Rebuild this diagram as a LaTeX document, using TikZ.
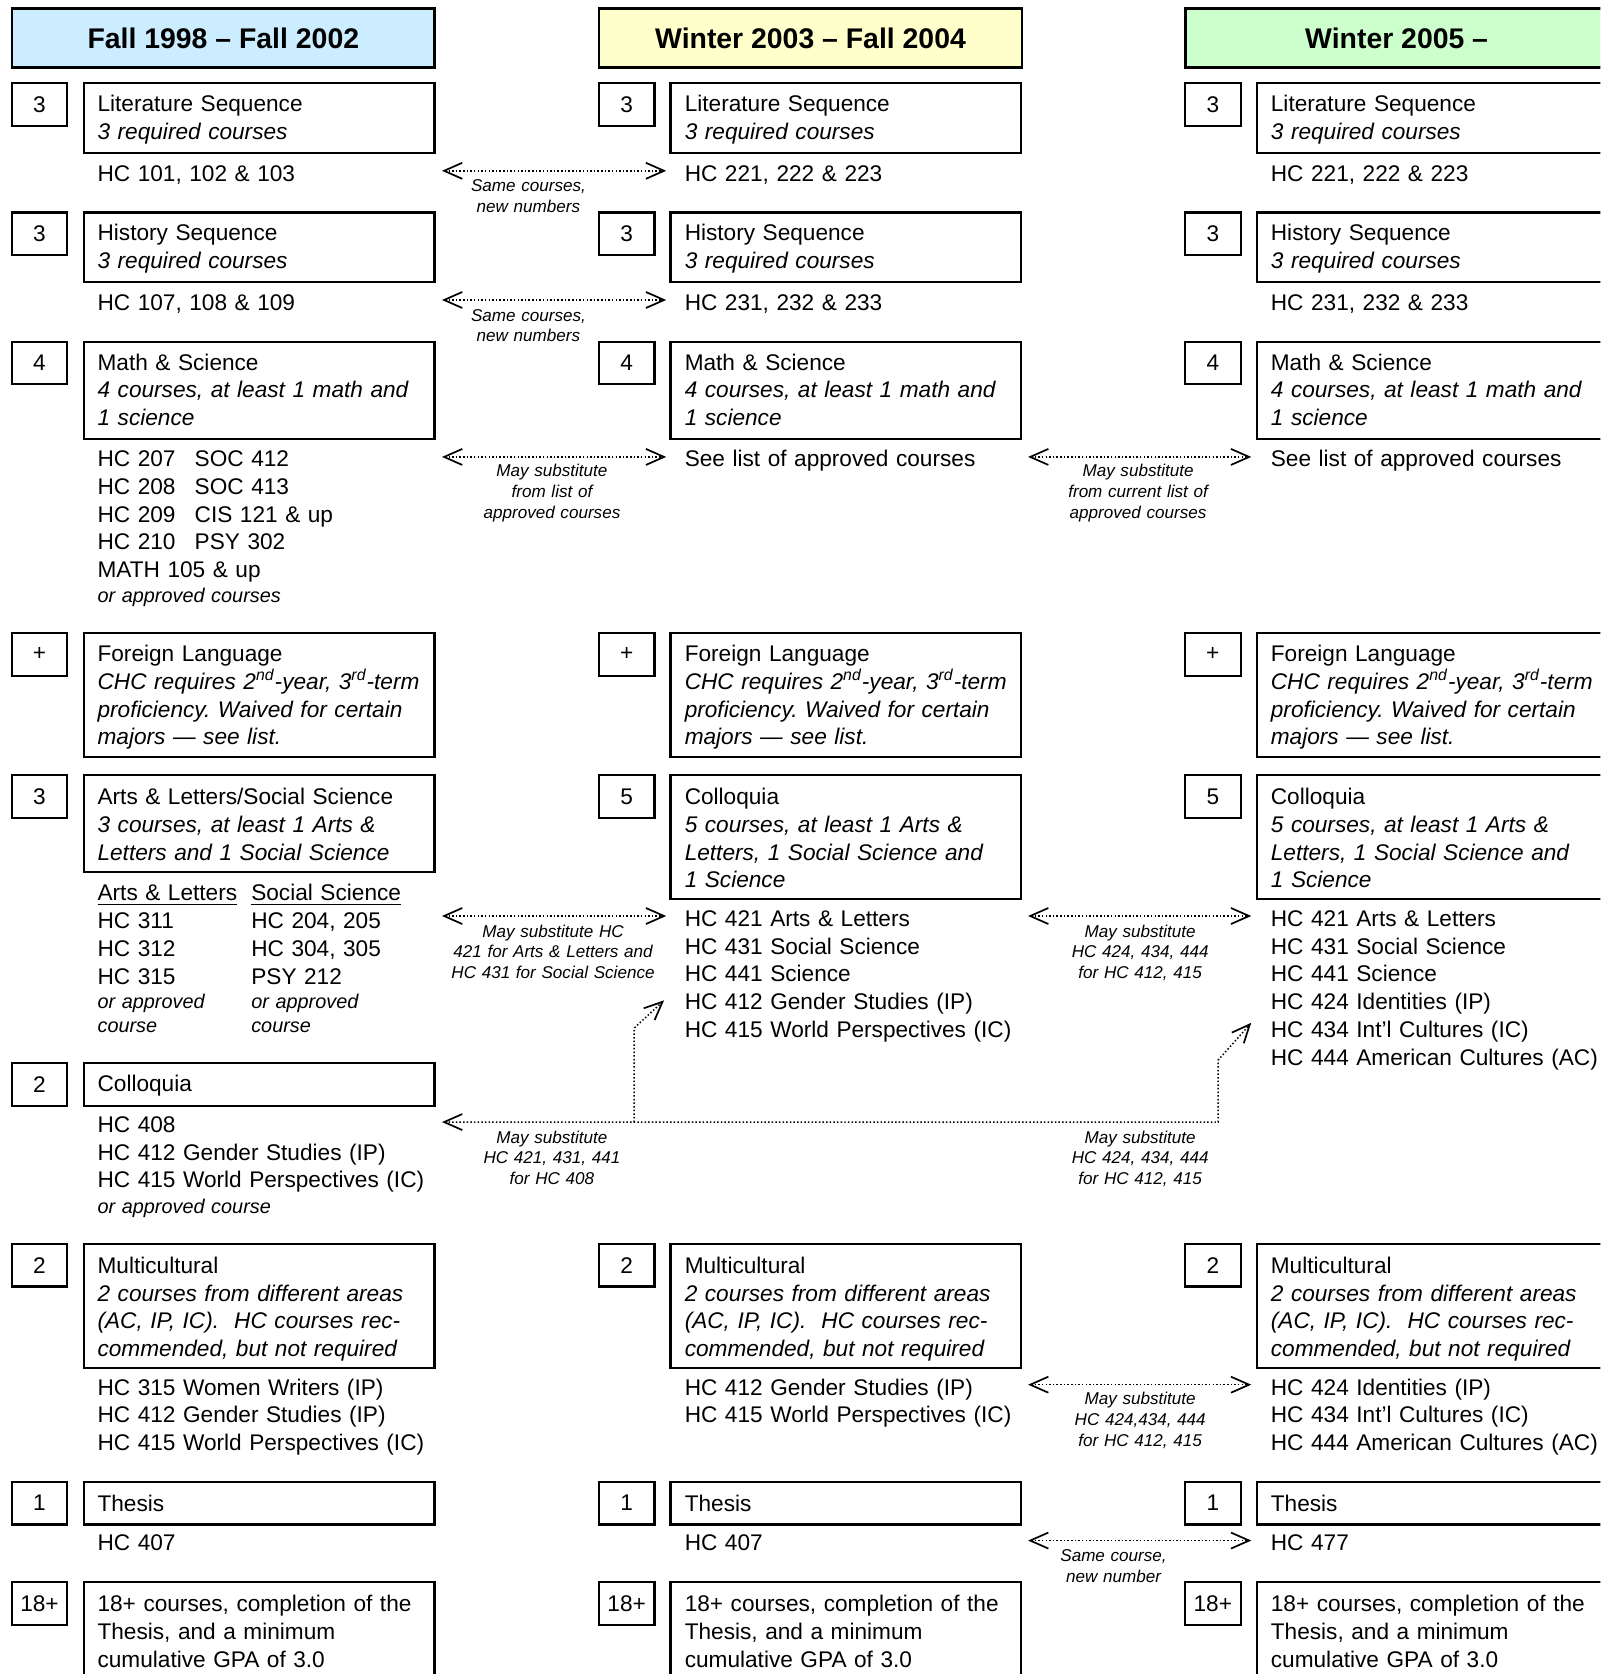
\documentclass[tikz,border=0pt]{standalone}
\usepackage{fontspec}
\setmainfont{Liberation Sans}
\usetikzlibrary{arrows.meta,calc}
\frenchspacing

\definecolor{hdrblue}{RGB}{204,236,255}
\definecolor{hdryellow}{RGB}{255,255,204}
\definecolor{hdrgreen}{RGB}{204,255,204}

\tikzset{
  hdr/.style={draw, line width=1.2pt, anchor=north west, minimum width=198pt, minimum height=27.5pt, inner sep=0, font=\fontsize{13.3}{16}\selectfont\bfseries},
  num/.style={draw, line width=1pt, anchor=north west, minimum width=26pt, minimum height=20pt, inner sep=0, font=\fontsize{10.6}{13}\selectfont},
  req/.style={draw, line width=1pt, anchor=north west, minimum width=164pt, inner sep=0},
  txt/.style={anchor=base west, inner sep=0, text width=160pt, align=left, font=\fontsize{10.6}{13}\selectfont},
  note/.style={anchor=base west, inner sep=0, text width=120pt, align=left, font=\fontsize{9.3}{11}\selectfont\itshape},
  lbl/.style={anchor=base, inner sep=0, text width=100pt, align=center, font=\fontsize{8}{9.75}\selectfont\itshape},
  sub/.style={line width=0.7pt, densely dotted},
}

\begin{document}
\begin{tikzpicture}[x=0.5pt,y=-0.5pt,>={Straight Barb[length=8.5pt,width=7.5pt,line width=0.8pt]}]
\useasboundingbox (0,0) rectangle (1499,1568);
\clip (0,0) rectangle (1499,1568);

% headers
\node[hdr, fill=hdrblue] (hdr1) at (10,7) {Fall 1998 -- Fall 2002};
\node[hdr, fill=hdryellow] (hdr2) at (560,7) {Winter 2003 -- Fall 2004};
\node[hdr, fill=hdrgreen] (hdr3) at (1109,7) {Winter 2005 --};

% literature
\node[num] (lit-n1) at (10,77) {3};
\node[req, minimum height=32.5pt] (lit-b1) at (78,77) {};
\node[txt] (lit-t1) at (91,104.7) {Literature Sequence\\\textit{3 required courses}};
\node[txt] (lit-c1) at (91,169.7) {HC 101, 102 \& 103};
\node[num] (lit-n2) at (560,77) {3};
\node[req, minimum height=32.5pt] (lit-b2) at (627,77) {};
\node[txt] (lit-t2) at (641,104.7) {Literature Sequence\\\textit{3 required courses}};
\node[txt] (lit-c2) at (641,169.7) {HC 221, 222 \& 223};
\node[num] (lit-n3) at (1109,77) {3};
\node[req, minimum height=32.5pt] (lit-b3) at (1176,77) {};
\node[txt] (lit-t3) at (1190,104.7) {Literature Sequence\\\textit{3 required courses}};
\node[txt] (lit-c3) at (1190,169.7) {HC 221, 222 \& 223};

% history
\node[num] (his-n1) at (10,198) {3};
\node[req, minimum height=32.5pt] (his-b1) at (78,198) {};
\node[txt] (his-t1) at (91,225.7) {History Sequence\\\textit{3 required courses}};
\node[txt] (his-c1) at (91,290.7) {HC 107, 108 \& 109};
\node[num] (his-n2) at (560,198) {3};
\node[req, minimum height=32.5pt] (his-b2) at (627,198) {};
\node[txt] (his-t2) at (641,225.7) {History Sequence\\\textit{3 required courses}};
\node[txt] (his-c2) at (641,290.7) {HC 231, 232 \& 233};
\node[num] (his-n3) at (1109,198) {3};
\node[req, minimum height=32.5pt] (his-b3) at (1176,198) {};
\node[txt] (his-t3) at (1190,225.7) {History Sequence\\\textit{3 required courses}};
\node[txt] (his-c3) at (1190,290.7) {HC 231, 232 \& 233};

% math and science
\node[num] (mat-n1) at (10,319) {4};
\node[req, minimum height=45.5pt] (mat-b1) at (78,319) {};
\node[txt] (mat-t1) at (91,346.7) {Math \& Science\\\textit{4 courses, at least 1 math and}\\\textit{1 science}};
\node[txt] (mat-c1) at (91,437) {\makebox[45.5pt][l]{HC 207}SOC 412\\\makebox[45.5pt][l]{HC 208}SOC 413\\\makebox[45.5pt][l]{HC 209}CIS 121 \& up\\\makebox[45.5pt][l]{HC 210}PSY 302\\MATH 105 \& up};
\node[note] (mat-o1) at (91,564.7) {or approved courses};
\node[num] (mat-n2) at (560,319) {4};
\node[req, minimum height=45.5pt] (mat-b2) at (627,319) {};
\node[txt] (mat-t2) at (641,346.7) {Math \& Science\\\textit{4 courses, at least 1 math and}\\\textit{1 science}};
\node[txt] (mat-c2) at (641,437) {See list of approved courses};
\node[num] (mat-n3) at (1109,319) {4};
\node[req, minimum height=45.5pt] (mat-b3) at (1176,319) {};
\node[txt] (mat-t3) at (1190,346.7) {Math \& Science\\\textit{4 courses, at least 1 math and}\\\textit{1 science}};
\node[txt] (mat-c3) at (1190,437) {See list of approved courses};

% foreign language
\node[num] (fl-n1) at (10,592) {+};
\node[req, minimum height=58pt] (fl-b1) at (78,592) {};
\node[txt] (fl-t1) at (91,619.7) {Foreign Language\\\textit{CHC requires 2\textsuperscript{nd}-year, 3\textsuperscript{rd}-term}\\\textit{proficiency. Waived for certain}\\\textit{majors — see list.}};
\node[num] (fl-n2) at (560,592) {+};
\node[req, minimum height=58pt] (fl-b2) at (627,592) {};
\node[txt] (fl-t2) at (641,619.7) {Foreign Language\\\textit{CHC requires 2\textsuperscript{nd}-year, 3\textsuperscript{rd}-term}\\\textit{proficiency. Waived for certain}\\\textit{majors — see list.}};
\node[num] (fl-n3) at (1109,592) {+};
\node[req, minimum height=58pt] (fl-b3) at (1176,592) {};
\node[txt] (fl-t3) at (1190,619.7) {Foreign Language\\\textit{CHC requires 2\textsuperscript{nd}-year, 3\textsuperscript{rd}-term}\\\textit{proficiency. Waived for certain}\\\textit{majors — see list.}};

% arts & letters / colloquia
\node[num] (al-n1) at (10,725) {3};
\node[req, minimum height=45.5pt] (al-b1) at (78,725) {};
\node[txt] (al-t1) at (91,753.7) {Arts \& Letters/Social Science\\\textit{3 courses, at least 1 Arts \&}\\\textit{Letters and 1 Social Science}};
\node[txt] (al-c1) at (91,843.7) {\underline{Arts \& Letters}\\HC 311\\HC 312\\HC 315};
\node[txt] (al-s1) at (235,843.7) {\underline{Social Science}\\HC 204, 205\\HC 304, 305\\PSY 212};
\node[note] (al-o1) at (91,944.7) {or approved\\course};
\node[note] (al-o2) at (235,944.7) {or approved\\course};
\node[num] (al-n2) at (560,725) {5};
\node[req, minimum height=58pt] (al-b2) at (627,725) {};
\node[txt] (al-t2) at (641,753.7) {Colloquia\\\textit{5 courses, at least 1 Arts \&}\\\textit{Letters, 1 Social Science and}\\\textit{1 Science}};
\node[txt] (al-c2) at (641,867.7) {HC 421 Arts \& Letters\\HC 431 Social Science\\HC 441 Science\\HC 412 Gender Studies (IP)\\HC 415 World Perspectives (IC)};
\node[num] (al-n3) at (1109,725) {5};
\node[req, minimum height=58pt] (al-b3) at (1176,725) {};
\node[txt] (al-t3) at (1190,753.7) {Colloquia\\\textit{5 courses, at least 1 Arts \&}\\\textit{Letters, 1 Social Science and}\\\textit{1 Science}};
\node[txt] (al-c3) at (1190,867.7) {HC 421 Arts \& Letters\\HC 431 Social Science\\HC 441 Science\\HC 424 Identities (IP)\\HC 434 Int'l Cultures (IC)\\HC 444 American Cultures (AC)};

% old colloquia
\node[num] (cq-n1) at (10,995) {2};
\node[req, minimum height=20pt] (cq-b1) at (78,995) {};
\node[txt] (cq-t1) at (91,1022.7) {Colloquia};
\node[txt] (cq-c1) at (91,1060.7) {HC 408\\HC 412 Gender Studies (IP)\\HC 415 World Perspectives (IC)};
\node[note] (cq-o1) at (91,1136.7) {or approved course};

% multicultural
\node[num] (mc-n1) at (10,1164) {2};
\node[req, minimum height=58pt] (mc-b1) at (78,1164) {};
\node[txt] (mc-t1) at (91,1192.7) {Multicultural\\\textit{2 courses from different areas}\\\textit{(AC, IP, IC).\ \ HC courses rec-}\\\textit{commended, but not required}};
\node[txt] (mc-c1) at (91,1306.7) {HC 315 Women Writers (IP)\\HC 412 Gender Studies (IP)\\HC 415 World Perspectives (IC)};
\node[num] (mc-n2) at (560,1164) {2};
\node[req, minimum height=58pt] (mc-b2) at (627,1164) {};
\node[txt] (mc-t2) at (641,1192.7) {Multicultural\\\textit{2 courses from different areas}\\\textit{(AC, IP, IC).\ \ HC courses rec-}\\\textit{commended, but not required}};
\node[txt] (mc-c2) at (641,1306.7) {HC 412 Gender Studies (IP)\\HC 415 World Perspectives (IC)};
\node[num] (mc-n3) at (1109,1164) {2};
\node[req, minimum height=58pt] (mc-b3) at (1176,1164) {};
\node[txt] (mc-t3) at (1190,1192.7) {Multicultural\\\textit{2 courses from different areas}\\\textit{(AC, IP, IC).\ \ HC courses rec-}\\\textit{commended, but not required}};
\node[txt] (mc-c3) at (1190,1306.7) {HC 424 Identities (IP)\\HC 434 Int'l Cultures (IC)\\HC 444 American Cultures (AC)};

% thesis
\node[num] (th-n1) at (10,1387) {1};
\node[req, minimum height=20pt] (th-b1) at (78,1387) {};
\node[txt] (th-t1) at (91,1415.7) {Thesis};
\node[txt] (th-c1) at (91,1452.7) {HC 407};
\node[num] (th-n2) at (560,1387) {1};
\node[req, minimum height=20pt] (th-b2) at (627,1387) {};
\node[txt] (th-t2) at (641,1415.7) {Thesis};
\node[txt] (th-c2) at (641,1452.7) {HC 407};
\node[num] (th-n3) at (1109,1387) {1};
\node[req, minimum height=20pt] (th-b3) at (1176,1387) {};
\node[txt] (th-t3) at (1190,1415.7) {Thesis};
\node[txt] (th-c3) at (1190,1452.7) {HC 477};

% total
\node[num] (gpa-n1) at (10,1481) {18+};
\node[req, minimum height=45.5pt] (gpa-b1) at (78,1481) {};
\node[txt] (gpa-t1) at (91,1509.7) {18+ courses, completion of the\\Thesis, and a minimum\\cumulative GPA of 3.0};
\node[num] (gpa-n2) at (560,1481) {18+};
\node[req, minimum height=45.5pt] (gpa-b2) at (627,1481) {};
\node[txt] (gpa-t2) at (641,1509.7) {18+ courses, completion of the\\Thesis, and a minimum\\cumulative GPA of 3.0};
\node[num] (gpa-n3) at (1109,1481) {18+};
\node[req, minimum height=45.5pt] (gpa-b3) at (1176,1481) {};
\node[txt] (gpa-t3) at (1190,1509.7) {18+ courses, completion of the\\Thesis, and a minimum\\cumulative GPA of 3.0};

% substitutions
\draw[sub, <->] ($(lit-b1.east |- lit-c1.base)+(3pt,4.85pt)$) -- ($(lit-c2.base west)+(-8.5pt,4.85pt)$);
\node[lbl] (lit-l12) at (495,179.7) {Same courses,\\new numbers};
\draw[sub, <->] ($(his-b1.east |- his-c1.base)+(3pt,4.85pt)$) -- ($(his-c2.base west)+(-8.5pt,4.85pt)$);
\node[lbl] (his-l12) at (495,300.7) {Same courses,\\new numbers};
\draw[sub, <->] ($(mat-b1.east |- mat-c2.base)+(3pt,4.5pt)$) -- ($(mat-c2.base west)+(-8.5pt,4.5pt)$);
\node[lbl] (mat-l12) at (517,446.7) {May substitute\\from list of\\approved courses};
\draw[sub, <->] ($(mat-b2.east |- mat-c3.base)+(3pt,4.5pt)$) -- ($(mat-c3.base west)+(-9pt,4.5pt)$);
\node[lbl] (mat-l23) at (1066,446.7) {May substitute\\from current list of\\approved courses};
\draw[sub, <->] ($(al-b1.east |- al-c2.base)+(3pt,4.85pt)$) -- ($(al-c2.base west)+(-8.5pt,4.85pt)$);
\node[lbl] (al-l12) at (518,877.7) {May substitute HC\\421 for Arts \& Letters and\\HC 431 for Social Science};
\draw[sub, <->] ($(al-b2.east |- al-c3.base)+(3pt,4.85pt)$) -- ($(al-c3.base west)+(-9pt,4.85pt)$);
\node[lbl] (al-l23) at (1068,877.7) {May substitute\\HC 424, 434, 444\\for HC 412, 415};

\coordinate (jA) at (594,1051);
\coordinate (jB) at (1141,1051);
\coordinate (tip2) at (622,937);
\coordinate (tip3) at (1172,958);
\draw[sub, <->] ($(cq-b1.east |- cq-c1.base)+(3pt,4.85pt)$) -- (jB) -- (1141,993) -- (tip3);
\draw[sub, ->] (jA) -- (594,963) -- (tip2);
\node[lbl] (cq-l12) at (517,1070.7) {May substitute\\HC 421, 431, 441\\for HC 408};
\node[lbl] (cq-l23) at (1068,1070.7) {May substitute\\HC 424, 434, 444\\for HC 412, 415};

\draw[sub, <->] ($(mc-b2.east |- mc-c3.base)+(3pt,4.85pt)$) -- ($(mc-c3.base west)+(-9pt,4.85pt)$);
\node[lbl] (mc-l23) at (1068,1315.7) {May substitute\\HC 424,434, 444\\for HC 412, 415};
\draw[sub, <->] ($(th-b2.east |- th-c3.base)+(3pt,4.85pt)$) -- ($(th-c3.base west)+(-9pt,4.85pt)$);
\node[lbl] (th-l23) at (1043,1462.7) {Same course,\\new number};
\end{tikzpicture}
\end{document}
